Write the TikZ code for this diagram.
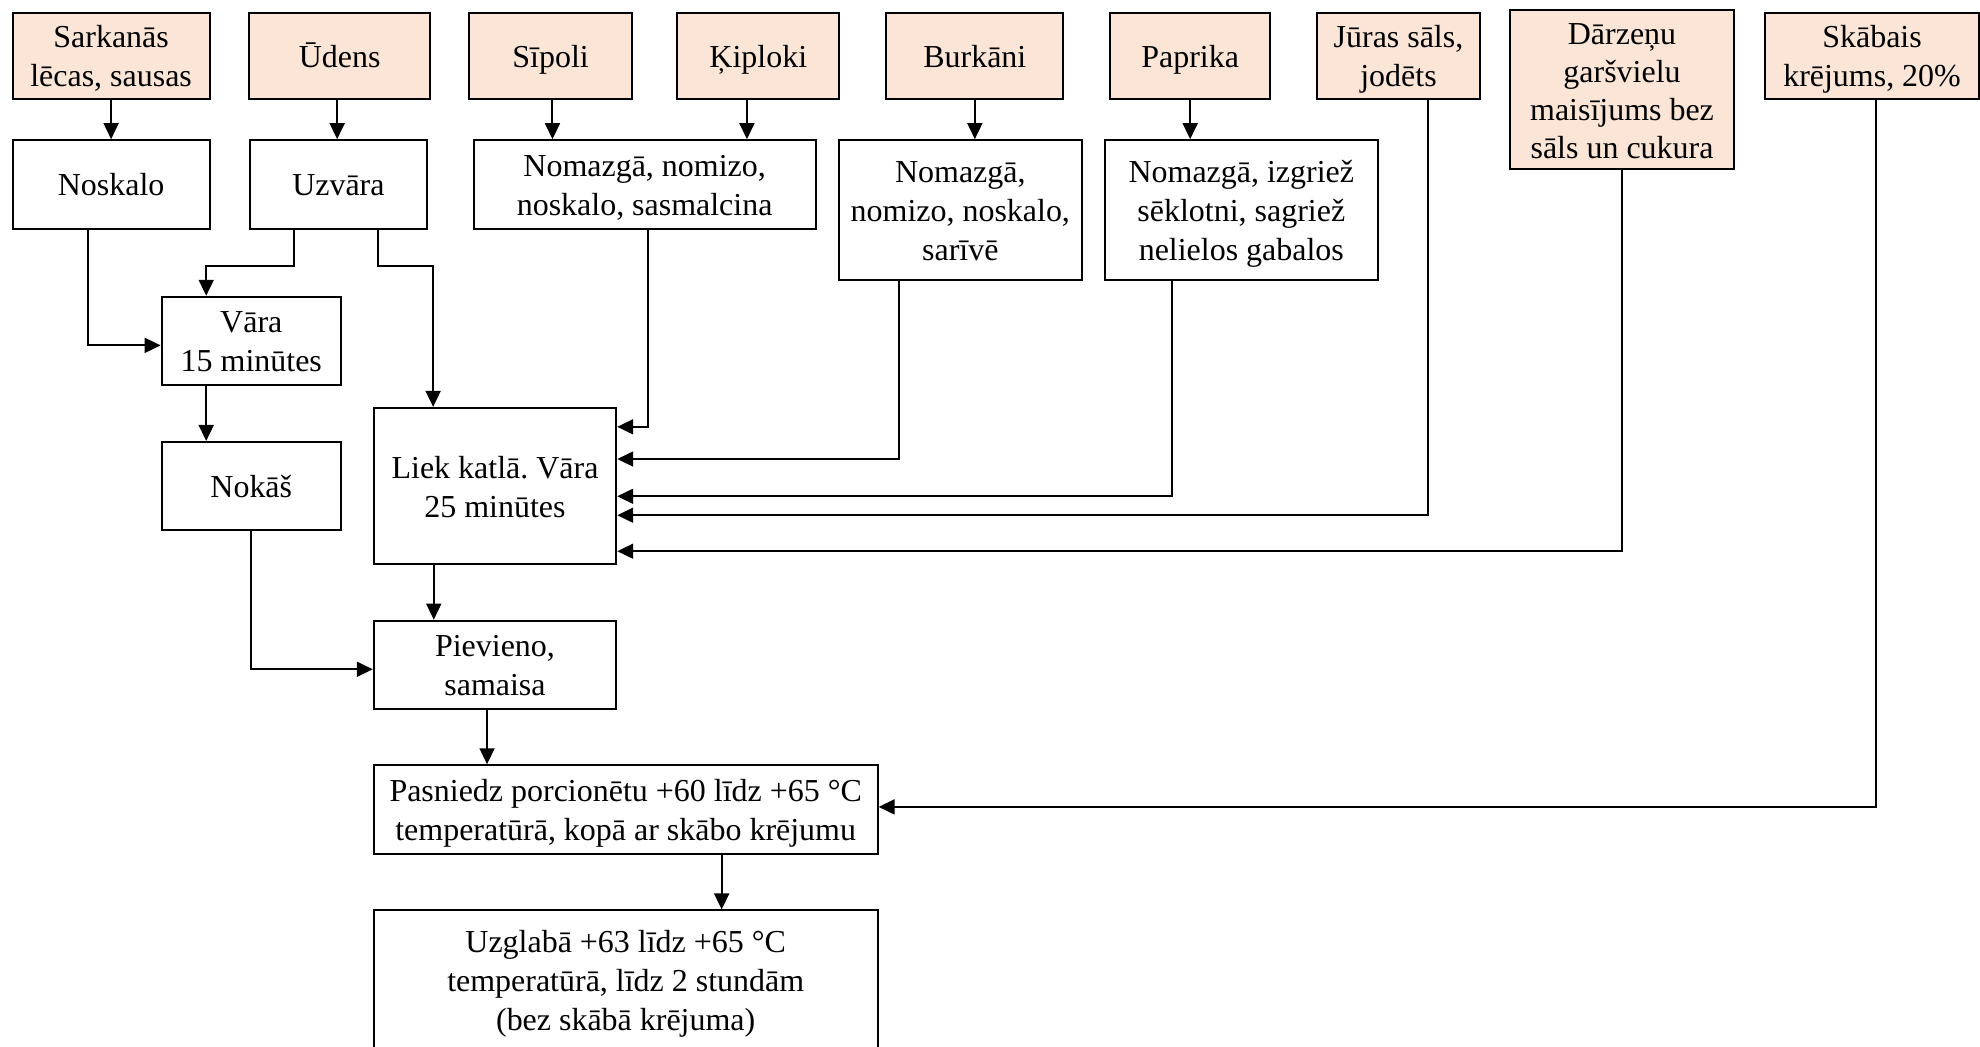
\documentclass[tikz,border=0pt]{standalone}
\usepackage{fontspec}
\setmainfont{Liberation Serif}
\usetikzlibrary{arrows.meta,calc}
\definecolor{peach}{HTML}{FBE5D6}
\newcommand{\pxu}{0.474pt}
\frenchspacing

\begin{document}
\begin{tikzpicture}[x=\pxu,y=-\pxu,
  font=\fontsize{12}{14.7}\selectfont,
  box/.style 2 args={draw,line width=0.75pt,align=flush center,inner sep=0pt,
    text width=#1*\pxu,minimum width=#1*\pxu,minimum height=#2*\pxu,
    execute at begin node={\rule{0pt}{13pt}},execute at end node=\strut},
  ingr/.style={fill=peach},
  arr/.style={-{Triangle[length=6pt,width=5.6pt]},line width=0.75pt}]
\useasboundingbox (0,0) rectangle (1568,829);

\node[box={156}{68},ingr] (sark) at (88,44) {Sarkanās\\lēcas, sausas};
\node[box={143}{68},ingr] (uden) at (269,44) {Ūdens};
\node[box={129}{68},ingr] (sip) at (436,44) {Sīpoli};
\node[box={128}{68},ingr] (kip) at (600.5,44) {Ķiploki};
\node[box={140}{68},ingr] (burk) at (772,44) {Burkāni};
\node[box={127}{68},ingr] (papr) at (942.5,44) {Paprika};
\node[box={129}{68},ingr] (juras) at (1107.5,44) {Jūras sāls,\\jodēts};
\node[box={177}{122},ingr,font=\fontsize{12}{14.2}\selectfont,
  execute at begin node={},execute at end node={}] (darz) at (1284.5,71)
  {Dārzeņu\\garšvielu\\maisījums bez\\sāls un cukura};
\node[box={169}{68},ingr] (skab) at (1482.5,44) {Skābais\\krējums, 20\%};

\node[box={156}{70}] (nosk) at (88,146) {Noskalo};
\node[box={140}{70}] (uzv) at (268,146) {Uzvāra};
\node[box={271}{70}] (onion) at (510.5,146) {Nomazgā, nomizo,\\noskalo, sasmalcina};
\node[box={192}{111}] (burkp) at (760.5,166.5) {Nomazgā,\\nomizo, noskalo,\\sarīvē};
\node[box={216}{111}] (paprp) at (983,166.5) {Nomazgā, izgriež\\sēklotni, sagriež\\nelielos gabalos};

\node[box={142}{70}] (vara) at (199,270) {Vāra\\15 minūtes};
\node[box={142}{70}] (nokas) at (199,385) {Nokāš};
\node[box={192}{124}] (liek) at (392,385) {Liek katlā. Vāra\\25 minūtes};
\node[box={192}{70}] (piev) at (392,526.5) {Pievieno,\\samaisa};
\node[box={399}{70}] (pasn) at (495.5,641) {Pasniedz porcionētu +60 līdz +65 °C\\temperatūrā, kopā ar skābo krējumu};
\node[box={399}{110}] (uzgl) at (495.5,776) {Uzglabā +63 līdz +65 °C\\temperatūrā, līdz 2 stundām\\(bez skābā krējuma)};

\coordinate (udenout) at ($(uden.south)+(-2,0)$);
\coordinate (sipout) at ($(sip.south)+(1.5,0)$);
\coordinate (kipout) at ($(kip.south)+(-9,0)$);

\draw[arr] (sark.south) -- (nosk.north);
\draw[arr] (udenout) -- (udenout |- uzv.north);
\draw[arr] (sipout) -- (sipout |- onion.north);
\draw[arr] (kipout) -- (kipout |- onion.north);
\draw[arr] (burk.south) -- (burk.south |- burkp.north);
\draw[arr] (papr.south) -- (papr.south |- paprp.north);

\draw[arr] ($(nosk.south)+(-18.5,0)$) |- ($(vara.west)+(0,3.5)$);
\draw[arr] ($(uzv.south)+(-35.4,0)$) -- ++(0,28.5) -| ($(vara.north)+(-35.7,0)$);
\draw[arr] ($(uzv.south)+(31,0)$) -- ++(0,28.5) -| ($(liek.north)+(-49,0)$);
\draw[arr] ($(vara.south)+(-35.7,0)$) -- ($(nokas.north)+(-35.7,0)$);
\draw[arr] (nokas.south) |- ($(piev.west)+(0,3.5)$);

\draw[arr] ($(onion.south)+(2.5,0)$) |- ($(liek.east)+(0,-47)$);
\draw[arr] ($(burkp.south)+(-48.8,0)$) |- ($(liek.east)+(0,-21.5)$);
\draw[arr] ($(paprp.south)+(-55,0)$) |- ($(liek.east)+(0,8)$);
\draw[arr] ($(juras.south)+(23.5,0)$) |- ($(liek.east)+(0,23)$);
\draw[arr] (darz.south) |- ($(liek.east)+(0,51.5)$);

\draw[arr] ($(liek.south)+(-48.5,0)$) -- ($(piev.north)+(-48.5,0)$);
\draw[arr] ($(piev.south)+(-6.3,0)$) -- ($(pasn.north)+(-109.8,0)$);
\draw[arr] ($(skab.south)+(3.5,0)$) |- ($(pasn.east)+(0,-2)$);
\draw[arr] ($(pasn.south)+(76,0)$) -- ($(uzgl.north)+(76,0)$);
\end{tikzpicture}
\end{document}
